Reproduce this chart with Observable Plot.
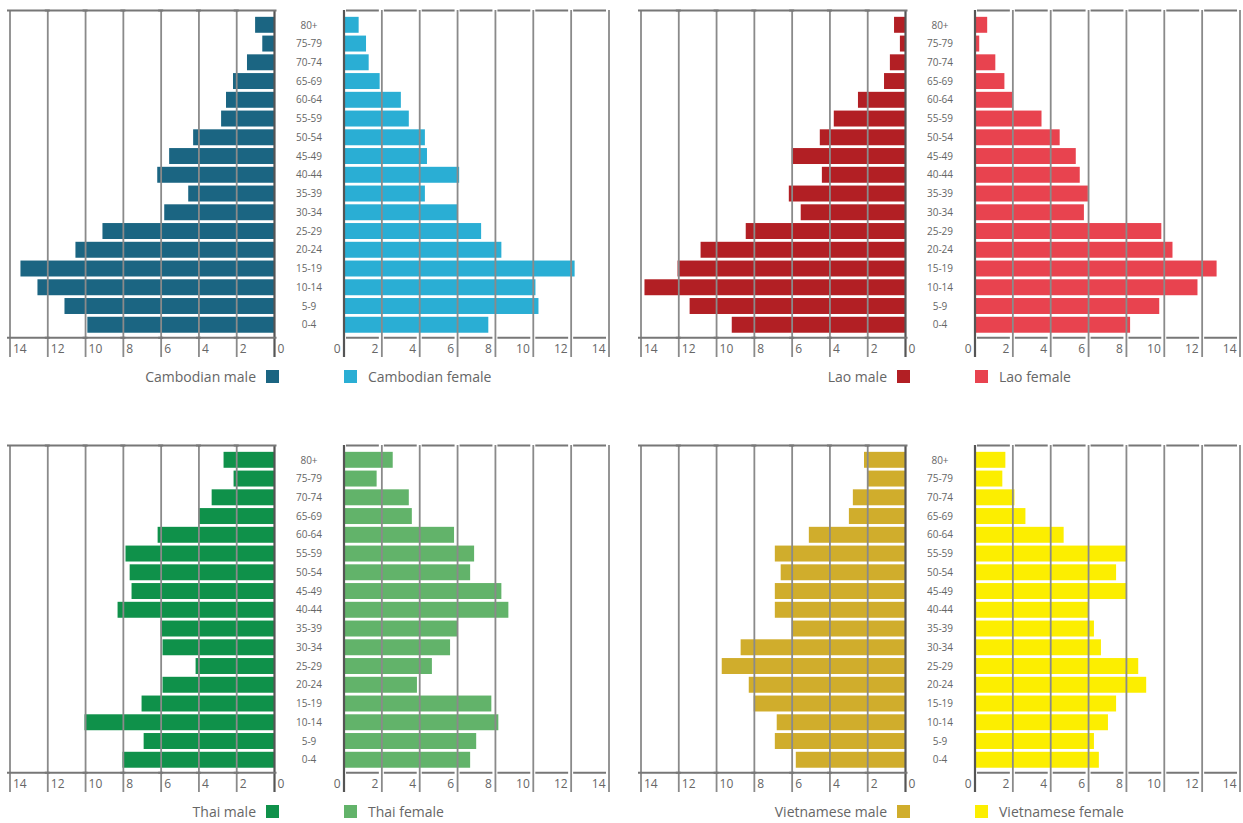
<!DOCTYPE html>
<html><head><meta charset="utf-8">
<script src="https://cdn.jsdelivr.net/npm/d3@7"></script>
<script src="https://cdn.jsdelivr.net/npm/@observablehq/plot@0.6"></script>
<style>
html,body{margin:0;padding:0;background:#fff;overflow:hidden;}
#root{position:relative;width:1243px;height:823px;font-family:"Open Sans",sans-serif;}
#root > div{position:absolute;}
.lt{font-size:14px;color:#666;line-height:20px;white-space:nowrap;}
.sw{width:13px;height:13px;}
</style></head><body><div id="root"></div>
<script>
// Age groups, youngest first
const ages = ["0-4","5-9","10-14","15-19","20-24","25-29","30-34","35-39","40-44","45-49","50-54","55-59","60-64","65-69","70-74","75-79","80+"];
const ticks = [0,2,4,6,8,10,12,14];

const cambodianMale   = [9.88, 11.09, 12.52, 13.42, 10.51, 9.08, 5.81, 4.54, 6.18, 5.55, 4.28, 2.80, 2.54, 2.17, 1.43, 0.62, 1.00];
const cambodianFemale = [7.65, 10.30, 10.14, 12.21, 8.34, 7.27, 6.00, 4.30, 6.11, 4.41, 4.30, 3.45, 3.03, 1.91, 1.33, 1.19, 0.80];
const laoMale         = [9.17, 11.40, 13.79, 12.04, 10.82, 8.43, 5.52, 6.15, 4.40, 5.99, 4.51, 3.77, 2.49, 1.11, 0.80, 0.27, 0.58];
const laoFemale       = [8.22, 9.76, 11.78, 12.79, 10.46, 9.87, 5.78, 5.99, 5.56, 5.35, 4.50, 3.54, 2.00, 1.58, 1.10, 0.25, 0.67];
const thaiMale        = [8.02, 6.90, 10.03, 7.01, 5.90, 4.15, 5.90, 6.00, 8.28, 7.54, 7.64, 7.86, 6.16, 3.99, 3.30, 2.14, 2.67];
const thaiFemale      = [6.69, 7.01, 8.18, 7.81, 3.88, 4.67, 5.63, 6.00, 8.71, 8.34, 6.69, 6.90, 5.84, 3.61, 3.45, 1.75, 2.60];
const vietMale        = [5.78, 6.89, 6.79, 8.01, 8.27, 9.70, 8.70, 5.99, 6.89, 6.89, 6.58, 6.89, 5.09, 2.97, 2.76, 1.96, 2.17];
const vietFemale      = [6.57, 6.31, 7.05, 7.48, 9.07, 8.65, 6.68, 6.31, 6.04, 8.06, 7.48, 8.06, 4.71, 2.69, 2.11, 1.47, 1.63];

const panels = [
  {male: cambodianMale, female: cambodianFemale, mLabel: "Cambodian male", fLabel: "Cambodian female", mColor: "#1b6582", fColor: "#2aaed4", ox: 0, oy: 0},
  {male: laoMale, female: laoFemale, mLabel: "Lao male", fLabel: "Lao female", mColor: "#b21f24", fColor: "#e8434f", ox: 631, oy: 0},
  {male: thaiMale, female: thaiFemale, mLabel: "Thai male", fLabel: "Thai female", mColor: "#0f914a", fColor: "#62b36a", ox: 0, oy: 435},
  {male: vietMale, female: vietFemale, mLabel: "Vietnamese male", fLabel: "Vietnamese female", mColor: "#d0ad2c", fColor: "#fcee00", ox: 631, oy: 435}
];

const W_M = 290, W_F = 322, H = 365;
const Y_DOMAIN = [-1.22, 17.29];
const TOP_LINE = 17.29, BOTTOM_LINE = -0.17;

function side(values, color, isMale) {
  const data = values.map((v, i) => ({age: ages[i], i, v}));
  const segs = d3.pairs(ticks).map(([a, b]) => ({a, b}));
  return Plot.plot({
    width: isMale ? W_M : W_F,
    height: H,
    marginTop: 10,
    marginBottom: 8,
    marginLeft: isMale ? 9.5 : 53.5,
    marginRight: isMale ? 16 : 3.5,
    x: {domain: [0, 14], reverse: isMale, axis: null},
    y: {domain: Y_DOMAIN, axis: null},
    style: {background: "transparent", overflow: "visible", fontFamily: "'Open Sans', sans-serif", color: "#666"},
    marks: [
      Plot.rect(data, {x1: () => 0, x2: "v", y1: "i", y2: d => d.i + 1, fill: color, insetTop: 1.4, insetBottom: 1.4}),
      Plot.ruleX(ticks.filter(t => t !== 0), {x: d => d, stroke: "#8a8a8a", strokeWidth: 1.8}),
      Plot.ruleX([0], {x: d => d, stroke: "#555", strokeWidth: 2.2}),
      Plot.ruleY(segs, {y: () => TOP_LINE, x1: "a", x2: "b", insetLeft: 2.5, insetRight: 2.5, stroke: "#777", strokeWidth: 2}),
      Plot.ruleY(segs, {y: () => BOTTOM_LINE, x1: "a", x2: "b", insetLeft: 2.5, insetRight: 2.5, stroke: "#777", strokeWidth: 2}),
      Plot.axisX({ticks, anchor: "bottom", tickSize: 0, tickPadding: 0, label: null,
        textAnchor: isMale ? "start" : "end", dx: isMale ? 3 : -3.5, dy: -13, fontSize: 12, fill: "#666"}),
      ...(isMale ? [] : [Plot.text(data, {y: d => d.i + 0.5, text: "age", frameAnchor: "left", textAnchor: "middle", dx: -35, fontSize: 10, fill: "#666"})])
    ]
  });
}

const root = document.getElementById("root");
function place(el, x, y) { el.style.left = x + "px"; el.style.top = y + "px"; root.appendChild(el); return el; }

for (const p of panels) {
  const m = document.createElement("div");
  m.appendChild(side(p.male, p.mColor, true));
  place(m, p.ox, p.oy);
  const f = document.createElement("div");
  f.appendChild(side(p.female, p.fColor, false));
  place(f, p.ox + 290, p.oy);

  // legend
  const ly = p.oy + 370;
  const mt = document.createElement("div");
  mt.className = "lt"; mt.textContent = p.mLabel;
  mt.style.right = (1243 - (p.ox + 256)) + "px"; mt.style.top = (ly - 3.5) + "px";
  root.appendChild(mt);
  const ms = document.createElement("div");
  ms.className = "sw"; ms.style.background = p.mColor;
  place(ms, p.ox + 266, ly);
  const fs = document.createElement("div");
  fs.className = "sw"; fs.style.background = p.fColor;
  place(fs, p.ox + 344, ly);
  const ft = document.createElement("div");
  ft.className = "lt"; ft.textContent = p.fLabel;
  place(ft, p.ox + 368, ly - 3.5);
}
</script></body></html>
